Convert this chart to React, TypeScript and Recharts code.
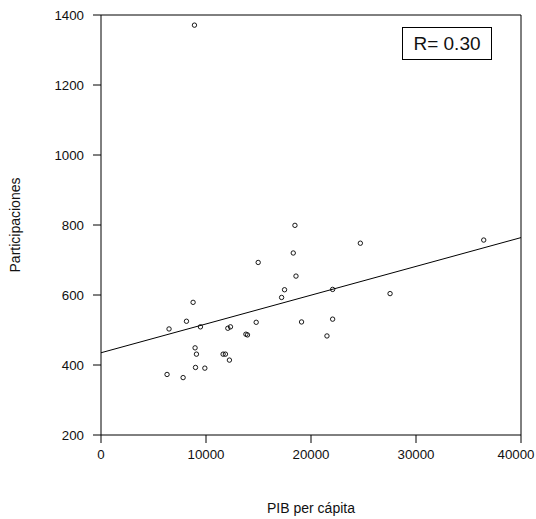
import React from "react";
import { ScatterChart, Scatter, XAxis, YAxis, ReferenceLine } from "recharts";

const gdpPerCapita = [
  18470, 18310, 14970, 18570, 17480, 17200, 22060, 8770, 8140, 6480, 9470,
  12080, 12330, 14780, 19100, 22060, 21520, 13800, 13950, 8960, 9090, 11630,
  11850, 12230, 9000, 9890, 6290, 7820, 24700, 36450, 27530, 8900,
];
const participations = [
  799, 720, 693, 654, 615, 593, 616, 579, 525, 503, 509, 505, 509, 522, 523,
  531, 483, 488, 486, 449, 431, 431, 431, 414, 393, 391, 373, 364, 748, 757,
  604, 1371,
];
const xTicks = [0, 10000, 20000, 30000, 40000];
const yTicks = [200, 400, 600, 800, 1000, 1200, 1400];
const trendX = [0, 40000];
const trendY = [435, 764];
const rLabel = "R= 0.30";
const xTitle = "PIB per cápita";
const yTitle = "Participaciones";

const points = gdpPerCapita.map((x, i) => ({ x, y: participations[i] }));
const trendSegment = trendX.map((x, i) => ({ x, y: trendY[i] }));

const FONT = "'Liberation Sans', Arial, Helvetica, sans-serif";
const TICK_FONT = 13.3;

const Dot = (props: any) => {
  const { cx, cy } = props;
  if (cx == null || cy == null) return null;
  return <circle cx={cx} cy={cy} r={2.2} fill="none" stroke="#000" strokeWidth={0.9} />;
};

const XTick = (props: any) => {
  const { x, y, payload } = props;
  const label = String(payload.value);
  const half = (label.length * 0.556 * TICK_FONT) / 2;
  const cx = Math.min(x, 535 - half);
  return (
    <text
      x={cx}
      y={y}
      dy="0.71em"
      textAnchor="middle"
      fontFamily={FONT}
      fontSize={TICK_FONT}
      fill="#111"
    >
      {label}
    </text>
  );
};

const YTitle = (props: any) => {
  const vb = props.viewBox || { y: 15, height: 420 };
  const cy = vb.y + vb.height / 2;
  return (
    <text
      x={15}
      y={cy}
      transform={`rotate(-90 15 ${cy})`}
      textAnchor="middle"
      dominantBaseline="central"
      fontFamily={FONT}
      fontSize={14}
      fill="#111"
    >
      {yTitle}
    </text>
  );
};

const XTitle = (props: any) => {
  const vb = props.viewBox || { x: 101, width: 420 };
  const cx = vb.x + vb.width / 2;
  return (
    <text
      x={cx}
      y={508}
      textAnchor="middle"
      dominantBaseline="central"
      fontFamily={FONT}
      fontSize={14}
      fill="#111"
    >
      {xTitle}
    </text>
  );
};

export default function App() {
  return (
    <div style={{ position: "absolute", left: 0, top: 0, width: 536, height: 519, background: "#fff" }}>
      <ScatterChart
        width={536}
        height={519}
        margin={{ top: 15, right: 15, bottom: 0, left: 0 }}
      >
        <XAxis
          type="number"
          dataKey="x"
          domain={[0, 40000]}
          ticks={xTicks}
          allowDataOverflow
          height={84}
          stroke="#000"
          tickSize={8}
          tickMargin={7}
          tick={XTick}
          tickLine={{ stroke: "#000" }}
          label={{ content: XTitle }}
        />
        <YAxis
          type="number"
          dataKey="y"
          domain={[200, 1400]}
          ticks={yTicks}
          allowDataOverflow
          width={101}
          stroke="#000"
          tickSize={8}
          tickMargin={9}
          tick={{ fontFamily: FONT, fontSize: TICK_FONT, fill: "#111" }}
          tickLine={{ stroke: "#000" }}
          label={{ content: YTitle }}
        />
        <ReferenceLine y={1400} stroke="#000" strokeWidth={1} />
        <ReferenceLine x={40000} stroke="#000" strokeWidth={1} />
        <ReferenceLine segment={trendSegment} stroke="#000" strokeWidth={1} />
        <Scatter data={points} shape={Dot} isAnimationActive={false} />
      </ScatterChart>
      <div
        style={{
          position: "absolute",
          left: 402,
          top: 27,
          width: 90,
          height: 33,
          border: "1px solid #000",
          boxSizing: "border-box",
          display: "flex",
          alignItems: "center",
          justifyContent: "center",
          fontFamily: FONT,
          fontSize: 19,
          color: "#111",
          background: "#fff",
        }}
      >
        {rLabel}
      </div>
    </div>
  );
}
